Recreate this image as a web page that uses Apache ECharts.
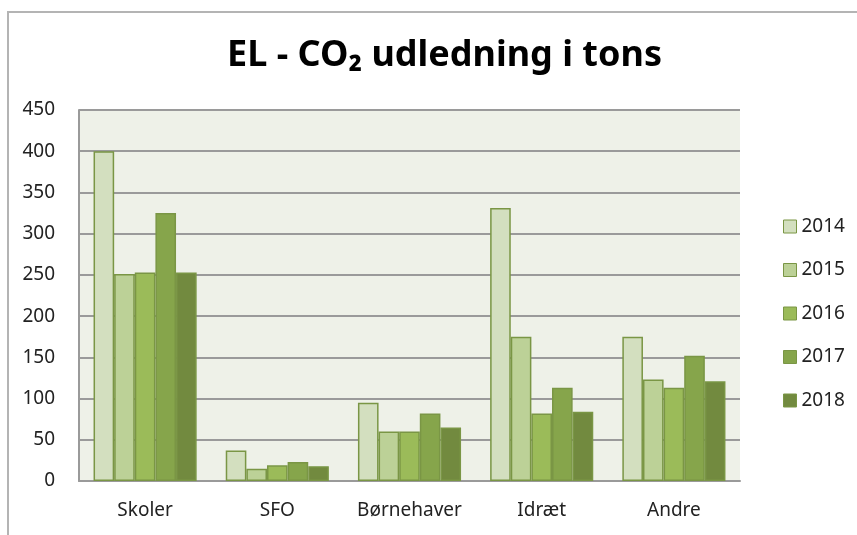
<!DOCTYPE html>
<html>
<head>
<meta charset="utf-8">
<script src="https://cdn.jsdelivr.net/npm/echarts@6/dist/echarts.min.js"></script>
<style>
  html, body { margin: 0; padding: 0; background: #fff; }
  #chart { width: 857px; height: 535px; }
</style>
</head>
<body>
<div id="chart"></div>
<script>
// data
var categories = ["Skoler", "SFO", "Børnehaver", "Idræt", "Andre"];
var years = ["2014", "2015", "2016", "2017", "2018"];
var v2014 = [400, 37, 95, 331, 175];
var v2015 = [251, 15, 60, 175, 123];
var v2016 = [253, 19, 60, 82, 113];
var v2017 = [325, 23, 82, 113, 152];
var v2018 = [253, 18, 65, 84, 121];
var yTicks = [0, 50, 100, 150, 200, 250, 300, 350, 400, 450];

var colors = ["#d3dfbf", "#bcd197", "#9bbb59", "#86a54b", "#728a3f"];
var values = [v2014, v2015, v2016, v2017, v2018];
var font = "Noto Sans";

var myChart = echarts.init(document.getElementById("chart"));

var series = years.map(function (y, i) {
  return {
    name: y,
    type: "bar",
    data: values[i],
    barGap: "0%",
    barCategoryGap: "22%",
    itemStyle: {
      color: colors[i],
      borderColor: "#7a9645",
      borderWidth: 1.5,
    },
  };
});

myChart.setOption({
  animation: false,
  title: {
    text: "EL - CO₂ udledning i tons",
    left: 222,
    top: 33,
    textStyle: {
      fontFamily: font,
      fontSize: 36,
      fontWeight: "bold",
      color: "#000",
    },
  },
  legend: {
    orient: "vertical",
    left: 778,
    top: 212,
    itemWidth: 13,
    itemHeight: 13,
    itemGap: 24.5,
    icon: "rect",
    textStyle: { fontFamily: font, fontSize: 19, color: "#222" },
    itemStyle: { borderColor: "#7a9645", borderWidth: 1 },
  },
  grid: {
    left: 79,
    right: 117,
    top: 110,
    bottom: 54,
    show: true,
    backgroundColor: "#eef1e8",
    borderWidth: 0,
  },
  xAxis: {
    type: "category",
    data: categories,
    axisTick: { show: false },
    axisLine: { lineStyle: { color: "#9a9a9a", width: 2 } },
    axisLabel: { interval: 0, fontFamily: font, fontSize: 19, color: "#222", margin: 20 },
  },
  yAxis: {
    type: "value",
    min: yTicks[0],
    max: yTicks[yTicks.length - 1],
    interval: 50,
    axisLine: { show: true, lineStyle: { color: "#9a9a9a", width: 2 } },
    axisTick: { show: false },
    splitLine: { lineStyle: { color: "#9a9a9a", width: 2 } },
    axisLabel: { fontFamily: font, fontSize: 19, color: "#222", margin: 24 },
  },
  graphic: [
    {
      type: "polyline",
      shape: { points: [[8, 535], [8, 12], [857, 12]] },
      style: { stroke: "#b4b4b4", lineWidth: 2, fill: null },
    },
  ],
  series: series,
});
</script>
</body>
</html>
